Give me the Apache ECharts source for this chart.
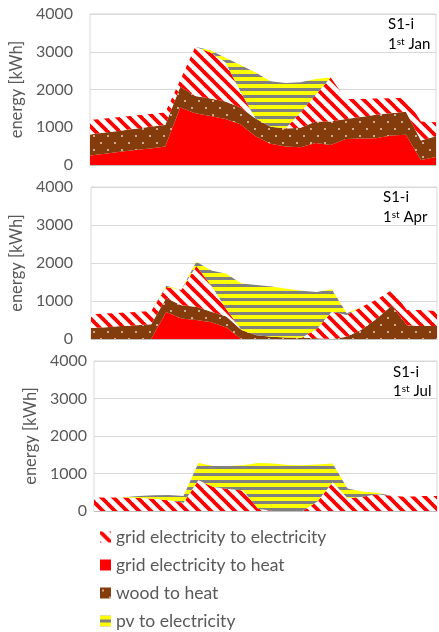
<!DOCTYPE html>
<html><head><meta charset="utf-8">
<script src="https://cdn.jsdelivr.net/npm/echarts@6/dist/echarts.min.js"></script>
<style>html,body{margin:0;padding:0;background:#fff;}#c{width:439px;height:632px;}</style>
</head><body><div id="c"></div>
<script>
// ---------- data ----------
const hours = ['0','1','2','3','4','5','6','7','8','9','10','11','12','13','14','15','16','17','18','19','20','21','22','23'];
const yTicks = [0, 1000, 2000, 3000, 4000];
const seriesNames = ['grid electricity to electricity', 'grid electricity to heat', 'wood to heat', 'pv to electricity'];
const panelTitles = ['S1-i', 'S1-i', 'S1-i'];
const panelDays = ['Jan', 'Apr', 'Jul'];

// 1st Jan
const janGridElec = [380,370,360,350,340,330,180,1300,1220,1040,430,0,0,0,410,710,1170,530,480,430,400,370,500,370];
const janGridHeat = [250,300,350,400,440,490,1520,1370,1300,1220,1080,760,560,490,470,580,530,690,700,710,780,800,130,210];
const janWood     = [560,560,560,560,570,570,550,460,460,460,440,470,450,480,520,570,620,530,570,620,590,610,520,550];
const janPv       = [0,0,0,0,0,0,0,0,60,120,700,1220,1210,1200,790,420,0,0,0,0,0,0,0,0];

// 1st Apr
const aprGridElec = [360,360,350,350,350,290,400,1070,680,190,0,0,0,0,0,240,720,570,600,500,410,400,420,390];
const aprGridHeat = [0,0,0,0,0,710,540,500,440,300,0,0,0,0,0,0,0,0,0,0,0,0,0,0];
const aprWood     = [290,310,340,360,390,370,350,350,280,290,240,100,60,40,30,20,0,60,250,540,880,360,340,340];
const aprPv       = [0,0,0,0,0,30,0,110,400,940,1220,1320,1320,1280,1240,980,590,50,0,0,0,0,0,0];

// 1st Jul
const julGridElec = [360,360,360,350,330,290,220,820,640,590,550,60,0,0,0,260,770,340,380,450,400,380,400,400];
const julGridHeat = [0,0,0,0,0,0,0,0,0,0,0,0,0,0,0,0,0,0,0,0,0,0,0,0];
const julWood     = [0,0,0,0,0,0,0,0,0,0,0,0,0,0,0,0,0,0,0,0,0,0,0,0];
const julPv       = [0,0,10,50,90,140,180,460,560,610,670,1220,1270,1230,1220,980,500,260,140,40,0,0,0,0];

// ---------- patterns ----------
function mk(w, h, draw) { const c = document.createElement('canvas'); c.width = w; c.height = h; draw(c.getContext('2d')); return { image: c, repeat: 'repeat' }; }
const patStripe = mk(12, 12, g => {
  g.fillStyle = '#ffffff'; g.fillRect(0, 0, 12, 12);
  g.strokeStyle = '#ff0000'; g.lineWidth = 3.8;
  for (let k = -1; k <= 1; k++) { g.beginPath(); g.moveTo(k * 12 - 2, -2); g.lineTo(k * 12 + 14, 14); g.stroke(); }
});
const patRed = '#ff0000';
const patWood = mk(14, 14, g => {
  g.fillStyle = '#843c0c'; g.fillRect(0, 0, 14, 14);
  g.fillStyle = '#e6d2c0';
  g.beginPath(); g.arc(3, 3, 1, 0, Math.PI * 2); g.fill();
  g.beginPath(); g.arc(10, 10, 1, 0, Math.PI * 2); g.fill();
});
const patPv = mk(4, 7, g => {
  g.fillStyle = '#ffff00'; g.fillRect(0, 0, 4, 4);
  g.fillStyle = '#808080'; g.fillRect(0, 4, 4, 3);
});

// ---------- layout ----------
const grids = [
  { left: 87, right: 3, top: 14, height: 151 },
  { left: 84, right: 2, top: 187, height: 152 },
  { left: 94, right: 2, top: 361, height: 150 }
];
const labelMargins = [17, 18, 7];
const nameGaps = [48, 52, 50];
const panels = [
  { gridElec: janGridElec, gridHeat: janGridHeat, wood: janWood, pv: janPv },
  { gridElec: aprGridElec, gridHeat: aprGridHeat, wood: aprWood, pv: aprPv },
  { gridElec: julGridElec, gridHeat: julGridHeat, wood: julWood, pv: julPv }
];
const FONT = 'Lato';
const xAxes = [], yAxes = [], series = [], graphics = [];
panels.forEach((p, i) => {
  xAxes.push({ type: 'category', gridIndex: i, data: hours, boundaryGap: false,
    axisLabel: { show: false }, axisTick: { show: false },
    axisLine: { lineStyle: { color: '#bfbfbf', width: 1 } } });
  yAxes.push({ type: 'value', gridIndex: i, min: yTicks[0], max: yTicks[yTicks.length - 1], interval: yTicks[1] - yTicks[0],
    name: 'energy [kWh]', nameLocation: 'middle', nameGap: nameGaps[i],
    nameTextStyle: { color: '#595959', fontSize: 16.5, fontFamily: FONT },
    axisLabel: { color: '#595959', fontSize: 16, fontFamily: FONT, margin: labelMargins[i], formatter: v => String(v) },
    axisLine: { show: false }, axisTick: { show: false },
    splitLine: { lineStyle: { color: '#d9d9d9', width: 1 } } });
  const defs = [
    [seriesNames[1], p.gridHeat, patRed],
    [seriesNames[2], p.wood, patWood],
    [seriesNames[0], p.gridElec, patStripe],
    [seriesNames[3], p.pv, patPv]
  ];
  defs.forEach(([name, data, fill]) => {
    series.push({ type: 'line', name, data, xAxisIndex: i, yAxisIndex: i, stack: 'p' + i,
      symbol: 'none', showSymbol: false, lineStyle: { width: 0 },
      itemStyle: { color: fill }, areaStyle: { color: fill, opacity: 1 },
      emphasis: { disabled: true }, silent: true });
  });
});
const annot = [
  { x: 388, y1: 17, y2: 37 },
  { x: 383, y1: 190, y2: 210 },
  { x: 393, y1: 365, y2: 384 }
];
annot.forEach((a, i) => {
  graphics.push({ type: 'text', left: a.x, top: a.y1, z: 100,
    style: { text: panelTitles[i], font: '15px ' + FONT, fill: '#000' } });
  graphics.push({ type: 'text', left: a.x, top: a.y2, z: 100,
    style: { text: '{a|1}{s|st}{a| ' + panelDays[i] + '}', fill: '#000',
      rich: { a: { fontSize: 15, fontFamily: FONT, fill: '#000' }, s: { fontSize: 10, fontFamily: FONT, fill: '#000', verticalAlign: 'top' } } } });
});

const chart = echarts.init(document.getElementById('c'), null, { renderer: 'canvas' });
chart.setOption({
  animation: false,
  backgroundColor: '#fff',
  grid: grids.map(g => Object.assign({ show: true, borderColor: '#d9d9d9', borderWidth: 1, backgroundColor: 'transparent' }, g)),
  xAxis: xAxes,
  yAxis: yAxes,
  series,
  legend: { orient: 'vertical', left: 100, top: 528, height: 110, padding: 0, icon: 'rect', itemWidth: 11, itemHeight: 11, itemGap: 10,
    data: seriesNames, selectedMode: false,
    textStyle: { color: '#595959', fontSize: 17.5, fontFamily: FONT, lineHeight: 17.5 } },
  graphic: graphics
});
</script></body></html>
